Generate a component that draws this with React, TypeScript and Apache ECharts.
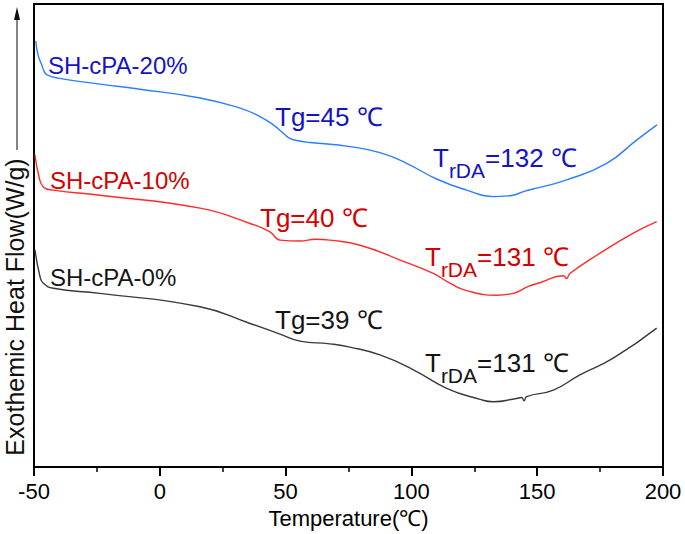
import React, { useEffect, useRef } from 'react';
import * as echarts from 'echarts';

// X axis (Temperature, °C)
const xMin = -50;
const xMax = 200;
const xStep = 50;

// SH-cPA-20% (blue)
const s20Temp = [-49.3, -48.4, -46.9, -46.0, -44.8, -40.5, -23.8, -7.9, 16.0, 31.9, 39.8, 45.1, 49.1, 51.7, 55.7, 59.7, 75.6, 87.5, 98.1, 110.0, 122.0, 132.6, 139.2, 141.8, 145.1, 151.1, 161.7, 177.6, 189.5, 197.6];
const s20Flow = [92.0, 89.0, 86.8, 85.5, 84.7, 84.0, 82.7, 81.6, 79.7, 77.5, 75.7, 73.9, 72.1, 71.0, 70.4, 70.1, 69.2, 67.9, 65.6, 62.2, 59.8, 58.4, 58.6, 58.9, 59.6, 60.4, 62.0, 65.6, 70.6, 73.9];

// SH-cPA-10% (red)
const s10Temp = [-49.6, -48.3, -46.3, -42.3, -23.8, 16.0, 35.9, 43.8, 47.8, 55.7, 62.0, 67.6, 79.6, 95.5, 108.7, 115.3, 122.0, 133.9, 140.5, 146.5, 151.1, 160.4, 161.7, 163.0, 175.0, 188.2, 197.5];
const s10Flow = [67.4, 63.4, 60.5, 59.8, 58.7, 55.9, 52.6, 50.8, 49.0, 48.8, 49.2, 49.0, 47.9, 44.7, 41.8, 39.7, 38.1, 37.1, 37.5, 39.0, 39.8, 41.3, 40.7, 41.8, 46.2, 50.5, 53.0];

// SH-cPA-0% (black)
const s0Temp = [-49.6, -47.6, -46.3, -42.3, -23.8, 16.0, 35.9, 47.8, 55.7, 67.6, 75.6, 87.5, 100.8, 114.0, 127.3, 132.6, 141.8, 143.8, 144.8, 145.8, 156.4, 167.0, 180.2, 197.5];
const s0Flow = [46.9, 41.1, 39.7, 38.6, 37.5, 34.6, 31.0, 28.7, 27.2, 26.6, 25.9, 24.2, 21.0, 17.0, 14.6, 14.1, 14.8, 15.0, 14.3, 15.2, 16.6, 19.9, 23.5, 30.0];

const seriesNames = ['SH-cPA-20%', 'SH-cPA-10%', 'SH-cPA-0%'];
const tgLabels = ['Tg=45 ℃', 'Tg=40 ℃', 'Tg=39 ℃'];
const trdaValues = ['=132 ℃', '=131 ℃', '=131 ℃'];

const FONT = '"Liberation Sans", Arial, Helvetica, sans-serif';
const lineColors = ['#2a7fff', '#ff2a2a', '#3a3a3a'];
const textColors = ['#1414c4', '#d40000', '#151515'];

// annotation layout (pixels)
const nameLayout = [
  { x: 48, y: 65 },
  { x: 50, y: 180 },
  { x: 50, y: 277 },
];
const tgLayout = [
  { x: 275, y: 117 },
  { x: 260, y: 218 },
  { x: 275, y: 320 },
];
const trdaLayout = [
  { x: 433, y: 163 },
  { x: 425, y: 262 },
  { x: 425, y: 368 },
];

function zip(a: number[], b: number[]) {
  return a.map((v, i) => [v, b[i]]);
}

export default function App() {
  const ref = useRef<HTMLDivElement>(null);
  useEffect(() => {
    if (!ref.current) return;
    const chart = echarts.init(ref.current, null, { renderer: 'svg' });
    const data = [zip(s20Temp, s20Flow), zip(s10Temp, s10Flow), zip(s0Temp, s0Flow)];

    const graphics: any[] = [];
    // y axis title + arrow
    graphics.push({
      type: 'text',
      x: 15,
      y: 307,
      rotation: Math.PI / 2,
      style: {
        text: 'Exothemic Heat Flow(W/g)',
        font: `25px ${FONT}`,
        fill: '#111',
        align: 'center',
        verticalAlign: 'middle',
        textAlign: 'center',
        textVerticalAlign: 'middle',
      },
    });
    graphics.push({
      type: 'line',
      shape: { x1: 17, y1: 150, x2: 17, y2: 16 },
      style: { stroke: '#333', lineWidth: 1.2 },
    });
    graphics.push({
      type: 'polygon',
      shape: { points: [[17, 7], [14, 20], [20, 20]] },
      style: { fill: '#111' },
    });
    for (let i = 0; i < 3; i++) {
      graphics.push({
        type: 'text',
        x: nameLayout[i].x,
        y: nameLayout[i].y,
        style: {
          text: seriesNames[i],
          font: `24px ${FONT}`,
          fill: textColors[i],
          align: 'left',
          verticalAlign: 'middle',
          textAlign: 'left',
          textVerticalAlign: 'middle',
        },
      });
      graphics.push({
        type: 'text',
        x: tgLayout[i].x,
        y: tgLayout[i].y,
        style: {
          text: tgLabels[i],
          font: `26px ${FONT}`,
          fill: textColors[i],
          align: 'left',
          verticalAlign: 'middle',
          textAlign: 'left',
          textVerticalAlign: 'middle',
        },
      });
      graphics.push({
        type: 'text',
        x: trdaLayout[i].x,
        y: trdaLayout[i].y,
        style: {
          text: `{a|T}{b|rDA}{a|${trdaValues[i]}}`,
          fill: textColors[i],
          font: `26px ${FONT}`,
          align: 'left',
          verticalAlign: 'middle',
          textAlign: 'left',
          textVerticalAlign: 'middle',
          rich: {
            a: { fontSize: 26, fontFamily: FONT, lineHeight: 36, verticalAlign: 'top', fill: textColors[i], color: textColors[i] },
            b: { fontSize: 21, fontFamily: FONT, lineHeight: 18, verticalAlign: 'bottom', fill: textColors[i], color: textColors[i] },
          },
        },
      });
    }

    chart.setOption({
      animation: false,
      backgroundColor: '#fff',
      grid: {
        left: 34,
        right: 22,
        top: 4,
        bottom: 67,
        show: true,
        borderColor: '#000',
        borderWidth: 2,
        backgroundColor: 'transparent',
      },
      xAxis: {
        type: 'value',
        min: xMin,
        max: xMax,
        interval: xStep,
        name: 'Temperature(℃)',
        nameLocation: 'middle',
        nameGap: 40,
        nameTextStyle: { fontSize: 22, color: '#000', fontFamily: FONT },
        axisLine: { show: true, onZero: false, lineStyle: { color: '#000', width: 2 } },
        axisTick: { show: true, inside: false, length: 9, lineStyle: { color: '#000', width: 2 } },
        minorTick: { show: true, splitNumber: 2, length: 5, lineStyle: { color: '#000', width: 1.5 } },
        axisLabel: { fontSize: 22, color: '#000', fontFamily: FONT, margin: 13 },
        splitLine: { show: false },
      },
      yAxis: {
        type: 'value',
        min: 0,
        max: 100,
        axisLine: { show: true, onZero: false, lineStyle: { color: '#000', width: 2 } },
        axisTick: { show: false },
        axisLabel: { show: false },
        splitLine: { show: false },
      },
      series: data.map((d, i) => ({
        name: seriesNames[i],
        type: 'line',
        data: d,
        showSymbol: false,
        smooth: 0.5,
        lineStyle: { color: lineColors[i], width: 1.4 },
        silent: true,
      })),
      graphic: graphics,
    });
    return () => chart.dispose();
  }, []);
  return <div ref={ref} style={{ width: 685, height: 534, position: 'absolute', left: 0, top: 0 }} />;
}
